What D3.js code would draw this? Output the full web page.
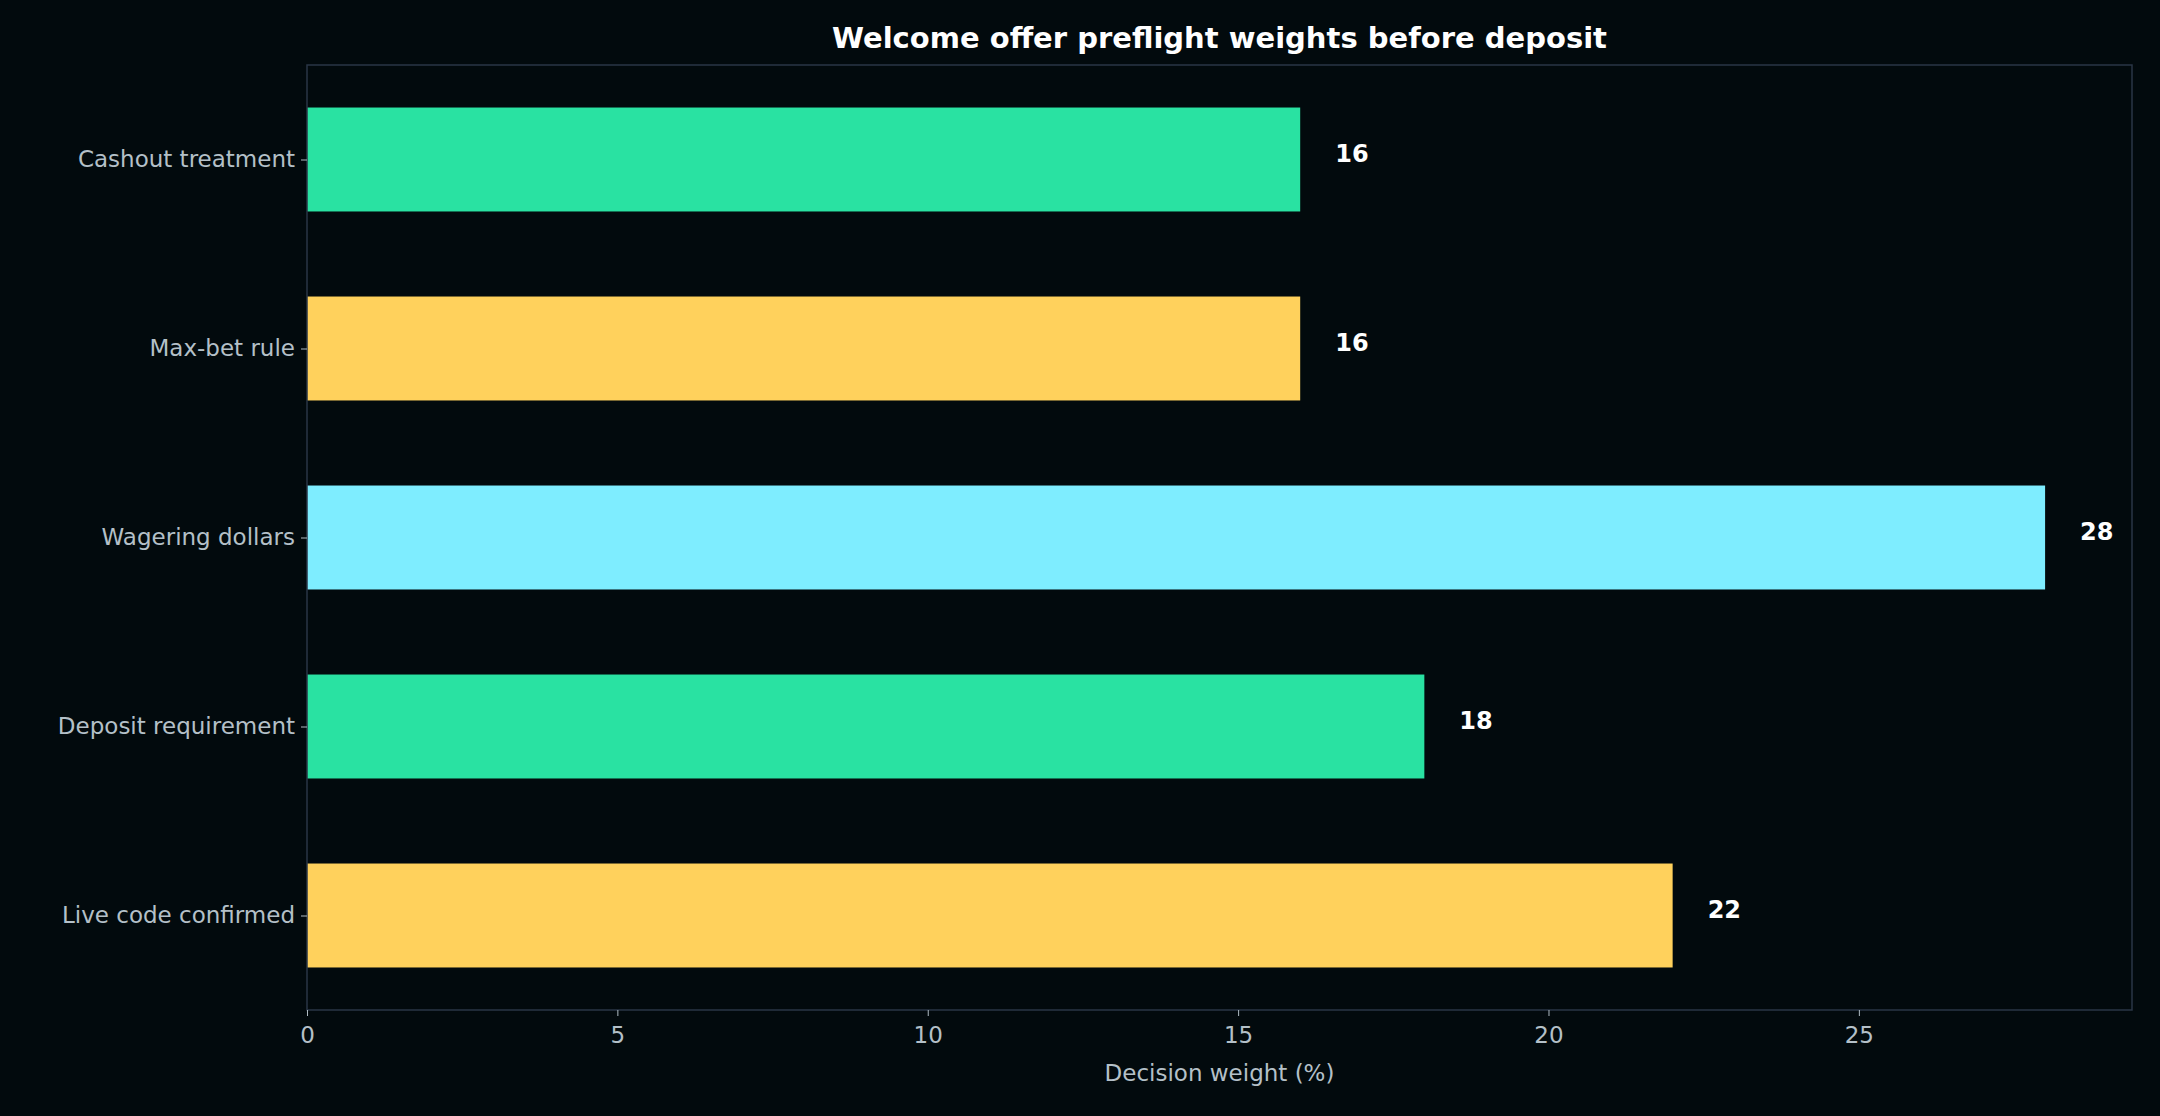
<!DOCTYPE html>
<html><head><meta charset="utf-8">
<script src="https://cdn.jsdelivr.net/npm/d3@7"></script>
<style>html,body{margin:0;background:#020a0d;}</style>
</head><body>
<svg id="c" width="2160" height="1116"></svg>
<script>
const categories = ["Live code confirmed","Deposit requirement","Wagering dollars","Max-bet rule","Cashout treatment"];
const values = [22, 18, 28, 16, 16];
const colors = ["#ffd15c","#29e2a2","#7eedff","#ffd15c","#29e2a2"];
const xTicks = [0,5,10,15,20,25];
const title = "Welcome offer preflight weights before deposit";
const xLabel = "Decision weight (%)";

const W=2160,H=1116, L=307, R=2132, T=65, B=1010;
const svg=d3.select("#c");
svg.append("rect").attr("width",W).attr("height",H).attr("fill","#020a0d");
const x=d3.scaleLinear().domain([0,29.4]).range([L,R]);
const y=d3.scaleLinear().domain([-0.5,4.5]).range([B,T]);
const bh=y(0)-y(0.55);
const font="DejaVu Sans, sans-serif";

svg.selectAll("rect.bar").data(values).join("rect").attr("class","bar")
 .attr("x",x(0)).attr("y",(d,i)=>y(i)-bh/2).attr("width",d=>x(d)-x(0)).attr("height",bh)
 .attr("fill",(d,i)=>colors[i]);
svg.selectAll("text.val").data(values).join("text").attr("class","val")
 .attr("x",d=>x(d)+35).attr("y",(d,i)=>y(i)).attr("dy","0.1em")
 .attr("fill","#ffffff").attr("font-family",font).attr("font-weight","bold").attr("font-size",24)
 .text(d=>d);

svg.append("rect").attr("x",L).attr("y",T).attr("width",R-L).attr("height",B-T)
 .attr("fill","none").attr("stroke","#2a3646").attr("stroke-width",1.5);

const xa=svg.append("g").attr("transform",`translate(0,${B})`).call(d3.axisBottom(x).tickValues(xTicks).tickSize(6).tickPadding(6).tickFormat(d3.format("d")));
const ya=svg.append("g").attr("transform",`translate(${L},0)`).call(d3.axisLeft(y).tickValues(d3.range(categories.length)).tickSize(6).tickPadding(6).tickFormat(i=>categories[i]));
[xa,ya].forEach(a=>{a.select(".domain").remove();
 a.selectAll("line").attr("stroke","#b0bcc4");
 a.selectAll("text").attr("fill","#b4c0c8").attr("font-family",font).attr("font-size",23);});
xa.selectAll("text").attr("dy","0.9em");

svg.append("text").attr("x",(L+R)/2).attr("y",48).attr("text-anchor","middle")
 .attr("fill","#ffffff").attr("font-family",font).attr("font-weight","bold").attr("font-size",29).text(title);
svg.append("text").attr("x",(L+R)/2).attr("y",1081).attr("text-anchor","middle")
 .attr("fill","#b4c0c8").attr("font-family",font).attr("font-size",23).text(xLabel);
</script>
</body></html>
